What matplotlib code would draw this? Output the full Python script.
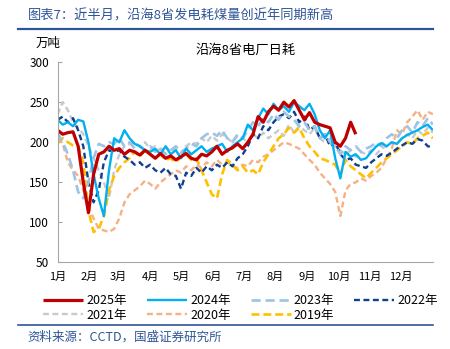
import numpy as np
import matplotlib.pyplot as plt
from matplotlib.lines import Line2D

plt.rcParams['font.family'] = ['Noto Sans CJK SC', 'DejaVu Sans']

# daily coal burn of coastal-8-province power plants, sampled every 5 days
days = np.arange(0, 366, 5)

y2025 = [215, 210, 212, 213, 195, 150, 112, 160, 185, 188, 195, 190, 192, 185, 190, 188,
         184, 190, 185, 180, 186, 180, 183, 178, 182, 186, 180, 178, 185, 183, 188, 195,
         185, 190, 193, 198, 192, 200, 210, 232, 225, 238, 245, 240, 250, 244, 252, 240,
         228, 237, 225, 222, 220, 218, 200, 195, 205, 225, 210]
y2024 = [228, 222, 225, 220, 228, 226, 200, 160, 130, 108, 165, 205, 200, 215, 205, 198,
         195, 190, 188, 192, 185, 195, 185, 190, 180, 192, 185, 190, 195, 188, 192, 195,
         198, 188, 195, 200, 205, 222, 215, 230, 242, 235, 248, 240, 245, 238, 250, 245,
         240, 248, 235, 215, 205, 215, 180, 155, 188, 182, 185, 178, 180, 188, 195, 199,
         195, 200, 198, 205, 209, 212, 215, 219, 222, 215]
y2023 = [212, 200, 185, 165, 138, 130, 150, 180, 198, 195, 200, 198, 205, 195, 200, 192,
         195, 190, 195, 188, 192, 185, 190, 195, 188, 192, 198, 195, 205, 210, 212, 208,
         215, 205, 200, 210, 205, 215, 225, 220, 230, 225, 235, 228, 238, 232, 228, 220,
         225, 215, 220, 205, 210, 200, 195, 185, 195, 190, 195, 188, 192, 195, 200, 195,
         205, 210, 205, 215, 220, 212, 225, 220, 230, 222]
y2022 = [228, 232, 225, 230, 215, 195, 150, 125, 140, 175, 190, 188, 190, 182, 178, 172,
         175, 168, 172, 165, 162, 168, 160, 158, 142, 162, 158, 168, 162, 170, 165, 172,
         168, 175, 170, 180, 185, 195, 210, 205, 220, 215, 225, 232, 235, 230, 238, 225,
         232, 215, 220, 205, 210, 195, 200, 185, 178, 180, 172, 170, 168, 175, 180, 185,
         183, 187, 192, 196, 200, 198, 204, 202, 195, 194]
y2021 = [235, 250, 240, 225, 218, 210, 195, 180, 165, 150, 130, 165, 185, 195, 198, 200,
         195, 200, 192, 195, 190, 195, 188, 192, 186, 195, 200, 198, 205, 200, 208, 202,
         210, 205, 200, 208, 205, 200, 210, 205, 212, 205, 210, 215, 208, 222, 212, 220,
         215, 210, 218, 205, 200, 205, 195, 190, 185, 190, 182, 188, 185, 190, 185, 192,
         195, 200, 198, 205, 210, 205, 215, 210, 218, 212]
y2020 = [205, 198, 175, 165, 158, 140, 120, 105, 92, 90, 88, 92, 105, 125, 135, 140,
         145, 152, 148, 142, 150, 155, 160, 165, 162, 170, 165, 172, 168, 175, 170, 178,
         172, 175, 170, 168, 172, 170, 178, 175, 182, 185, 190, 195, 200, 198, 195, 192,
         185, 178, 172, 162, 155, 148, 138, 108, 140, 148, 150, 155, 152, 158, 162, 168,
         180, 192, 215, 210, 225, 232, 240, 228, 238, 235]
y2019 = [199, 205, 200, 196, 195, 175, 115, 88, 92, 108, 140, 158, 168, 175, 180, 188,
         182, 190, 185, 180, 185, 178, 180, 175, 182, 185, 178, 180, 165, 150, 135, 130,
         160, 178, 172, 165, 170, 162, 165, 160, 175, 185, 195, 205, 210, 218, 212, 218,
         205, 195, 188, 180, 178, 175, 172, 160, 178, 170, 165, 160, 155, 162, 168, 175,
         180, 185, 190, 195, 200, 198, 205, 208, 212, 205]

month_pos = [0, 31, 59, 90, 120, 151, 181, 212, 243, 273, 304, 334]
month_labels = ['1月', '2月', '3月', '4月', '5月', '6月', '7月', '8月', '9月', '10月', '11月', '12月']

series = [
    ('2020年', y2020, '#F4B183', 1.7, (0, (2.5, 1.5))),
    ('2021年', y2021, '#C9C9C9', 1.7, (0, (2.5, 1.5))),
    ('2019年', y2019, '#FFC000', 1.9, (0, (3, 1.5))),
    ('2022年', y2022, '#0F3F8F', 1.7, (0, (2.5, 1.5))),
    ('2023年', y2023, '#9DC3E6', 1.9, (0, (3.5, 1.8))),
    ('2024年', y2024, '#00B0F0', 1.7, '-'),
    ('2025年', y2025, '#C00000', 2.3, '-'),
]

fig = plt.figure(figsize=(4.5, 3.49), dpi=100)
ax = fig.add_axes([0.128, 0.248, 0.834, 0.574])

handles = {}
for name, vals, color, lw, ls in series:
    line, = ax.plot(days[:len(vals)], vals, color=color, lw=lw, linestyle=ls,
                    solid_capstyle='butt', dash_capstyle='butt')
    handles[name] = line

ax.set_xlim(0, 365)
ax.set_ylim(50, 300)
ax.set_yticks([50, 100, 150, 200, 250, 300])
ax.set_xticks(month_pos)
ax.set_xticklabels(month_labels)
ax.tick_params(axis='y', direction='in', length=3, color='#A6A6A6', labelsize=8.5, pad=6)
ax.tick_params(axis='x', length=0, labelsize=8, pad=7)
for side in ['top', 'right']:
    ax.spines[side].set_visible(False)
for side in ['left', 'bottom']:
    ax.spines[side].set_color('#A6A6A6')
    ax.spines[side].set_linewidth(0.8)

ax.set_title('沿海8省电厂日耗', fontsize=9.5, pad=6)
fig.text(0.078, 0.877, '万吨', fontsize=9, ha='left', va='center')

# header and footer
blue = '#2F5597'
fig.text(0.062, 0.955, '图表7：近半月，沿海8省发电耗煤量创近年同期新高', color=blue,
         fontsize=9.5, style='italic', ha='left', va='center')
fig.add_artist(Line2D([0.04, 0.962], [0.918, 0.918], color=blue, lw=1.6))
fig.add_artist(Line2D([0.04, 0.962], [0.069, 0.069], color=blue, lw=1.2))
fig.text(0.062, 0.034, '资料来源：CCTD，国盛证券研究所', color=blue,
         fontsize=9, style='italic', ha='left', va='center')

order = ['2025年', '2021年', '2024年', '2020年', '2023年', '2019年', '2022年']
leg = fig.legend([handles[k] for k in order], order, ncol=4, frameon=False,
                 loc='center left', bbox_to_anchor=(0.085, 0.118),
                 fontsize=9, handlelength=3.2, handletextpad=0.25,
                 columnspacing=1.6, labelspacing=0.15, borderaxespad=0)

fig.savefig('out.png', dpi=100)
